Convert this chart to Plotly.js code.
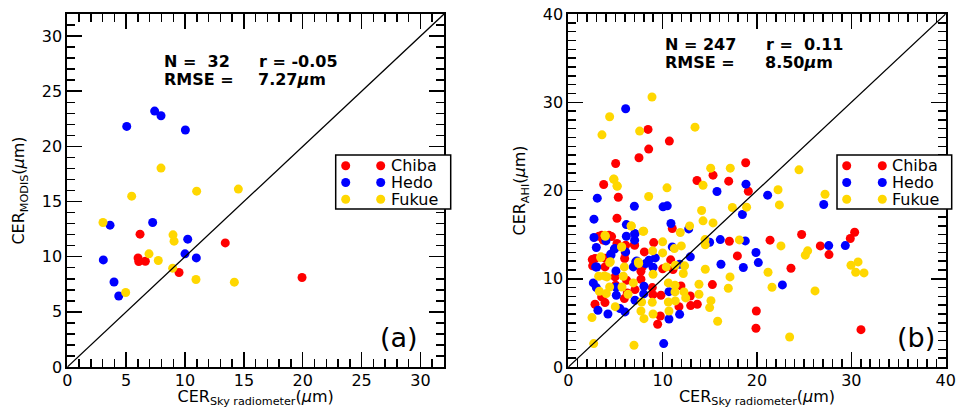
<!DOCTYPE html>
<html>
<head>
<meta charset="utf-8">
<script src="https://cdn.plot.ly/plotly-3.0.1.min.js"></script>
<style>html,body{margin:0;padding:0;background:#fff;}#chart{width:956px;height:408px;}</style>
</head>
<body>
<div id="chart"></div>
<script>
// ---------- Panel (a): MODIS vs Sky radiometer ----------
const chibaA_x = [6.01, 6.07, 6.63, 6.18, 13.42, 9.49, 19.94];
const chibaA_y = [9.89, 9.56, 9.59, 12.04, 11.25, 8.57, 8.11];
const hedoA_x = [7.42, 7.96, 5.05, 10.03, 3.63, 7.25, 10.23, 10.0, 10.96, 3.06, 3.97, 4.37];
const hedoA_y = [23.2, 22.78, 21.81, 21.48, 12.86, 13.1, 11.59, 10.26, 9.89, 9.71, 7.71, 6.44];
const fukueA_x = [7.96, 10.99, 14.53, 5.47, 3.03, 8.98, 9.07, 6.94, 7.73, 8.95, 10.93, 14.19, 4.96];
const fukueA_y = [18.03, 15.94, 16.13, 15.49, 13.1, 11.98, 11.41, 10.26, 9.65, 8.96, 7.93, 7.69, 6.75];

// ---------- Panel (b): AHI vs Sky radiometer ----------
const chibaB_x = [8.45, 8.52, 7.49, 10.71, 5.02, 3.75, 5.3, 5.16, 13.64, 15.34, 17.0, 18.8, 19.08, 17.07, 17.92, 21.38, 24.73, 23.6, 26.71, 27.63, 29.89, 30.35, 19.93, 19.89, 31.02, 15.27, 13.67, 12.97, 12.93, 11.94, 11.73, 11.1, 11.02, 10.85, 9.05, 8.06, 7.84, 7.03, 6.04, 5.97, 6.18, 6.25, 5.94, 5.02, 4.59, 3.89, 3.89, 3.53, 3.89, 2.83, 2.54, 2.58, 3.25, 7.7, 8.9, 8.97, 9.82, 9.75, 9.47, 10.0, 7.07, 4.95, 7.7, 3.71, 2.83, 5.16, 3.54, 4.31, 6.08, 7.0];
const chibaB_y = [26.92, 24.69, 23.71, 25.6, 23.06, 20.68, 19.24, 16.86, 21.13, 21.74, 21.06, 23.14, 19.92, 14.25, 12.59, 14.37, 15.01, 11.19, 13.72, 12.74, 14.56, 15.27, 6.35, 4.39, 4.23, 9.34, 7.11, 6.96, 8.05, 9.19, 6.84, 11.04, 15.69, 12.14, 14.1, 13.04, 11.34, 13.8, 12.97, 12.29, 9.83, 8.39, 7.75, 9.26, 14.78, 12.33, 11.34, 7.94, 7.3, 7.11, 12.17, 11.46, 14.82, 9.94, 9.0, 8.2, 8.13, 5.78, 4.84, 11.12, 8.77, 10.21, 10.85, 14.37, 12.29, 14.0, 14.92, 14.92, 13.79, 13.87];
const hedoB_x = [6.08, 3.07, 2.72, 7.0, 10.04, 10.49, 10.88, 12.76, 15.76, 18.83, 21.13, 18.45, 27.07, 16.11, 14.98, 18.76, 16.18, 19.89, 20.14, 18.55, 22.69, 27.6, 29.36, 12.93, 11.8, 11.02, 10.67, 10.67, 11.8, 10.11, 9.22, 8.98, 8.55, 7.99, 8.02, 8.2, 7.03, 7.03, 7.14, 6.89, 7.07, 6.15, 6.08, 6.01, 4.88, 3.99, 4.52, 5.05, 5.05, 5.09, 5.48, 4.2, 3.14, 2.9, 2.97, 2.72, 2.65, 2.97, 6.15, 7.07, 4.92, 4.49, 7.25, 3.01];
const hedoB_y = [29.26, 19.13, 16.75, 18.22, 18.15, 18.26, 16.26, 15.65, 19.89, 20.72, 19.47, 17.28, 18.41, 14.44, 14.14, 14.29, 11.64, 12.97, 11.83, 11.27, 9.3, 13.76, 13.76, 12.48, 11.64, 13.61, 8.54, 5.44, 5.97, 2.65, 12.36, 11.3, 12.1, 8.28, 9.15, 11.72, 15.09, 14.37, 11.91, 11.34, 7.56, 16.14, 13.04, 6.24, 13.35, 14.29, 12.67, 10.89, 9.07, 8.13, 6.62, 6.01, 6.43, 11.34, 13.54, 14.67, 9.53, 9.0, 14.81, 15.11, 13.42, 12.77, 12.01, 11.33];
const fukueB_x = [8.87, 4.38, 3.57, 7.56, 13.43, 4.81, 5.16, 8.52, 10.46, 15.09, 17.17, 14.28, 17.39, 18.9, 14.13, 14.28, 15.34, 12.86, 11.87, 7.99, 6.68, 3.92, 5.65, 10.0, 10.0, 8.94, 11.98, 11.24, 14.49, 14.52, 18.13, 22.54, 24.45, 22.23, 22.37, 27.21, 25.12, 25.37, 29.96, 30.71, 30.46, 31.34, 21.17, 21.59, 26.15, 23.46, 17.14, 16.96, 14.52, 13.85, 13.85, 15.12, 14.98, 15.83, 11.34, 12.33, 12.19, 11.31, 11.31, 12.26, 12.44, 11.34, 10.6, 10.67, 10.6, 10.39, 8.98, 8.9, 8.98, 7.77, 7.7, 8.02, 6.96, 7.46, 6.33, 5.83, 5.69, 4.98, 4.38, 4.03, 3.29, 3.22, 3.82, 3.46, 4.1, 4.38, 2.51, 2.69, 5.94, 6.89, 4.84, 5.19, 6.65, 7.92, 3.89, 5.66, 3.43, 4.45, 7.42];
const fukueB_y = [30.59, 28.36, 26.31, 26.73, 27.18, 21.29, 20.53, 19.32, 20.3, 22.53, 22.53, 20.6, 18.07, 18.11, 17.73, 16.56, 16.33, 15.99, 15.24, 15.39, 15.99, 14.82, 13.61, 14.18, 12.93, 13.16, 13.72, 13.42, 14.44, 13.84, 14.4, 13.72, 22.34, 20.08, 18.37, 19.58, 12.67, 13.16, 11.53, 11.91, 10.74, 10.66, 10.74, 9.04, 8.62, 3.4, 10.21, 8.92, 11.08, 9.38, 8.24, 7.52, 6.73, 5.18, 11.53, 11.46, 10.59, 9.26, 8.51, 8.51, 7.83, 7.49, 7.37, 6.35, 9.53, 11.34, 10.51, 7.33, 6.01, 7.37, 6.35, 5.48, 2.46, 11.72, 8.24, 10.28, 9.07, 6.84, 9.07, 8.32, 8.58, 10.28, 10.32, 12.48, 10.21, 11.83, 5.6, 2.65, 11.34, 9.53, 21.27, 20.48, 15.98, 15.38, 14.92, 13.6, 12.4, 11.94, 11.9];

const siteNames = ['Chiba', 'Hedo', 'Fukue'];
const siteColors = ['#FF0000', '#0000FF', '#FFD700'];
const statsA = {n: '32', r: '-0.05', rmse: '7.27'};
const statsB = {n: '247', r: '\u00a00.11', rmse: '8.50'};

const FONT = 'DejaVu Sans, sans-serif';
const W = 956, H = 408;
const M = {l: 60, r: 8, t: 14, b: 41};
const PW = W - M.l - M.r, PH = H - M.t - M.b;
const px = v => (v - M.l) / PW;
const py = v => (H - M.b - v) / PH;

function pts(x, y, i, xa, ya) {
  return {x: x, y: y, type: 'scatter', mode: 'markers', xaxis: xa, yaxis: ya,
    name: siteNames[i], showlegend: false, hoverinfo: 'x+y',
    marker: {color: siteColors[i], size: 9, line: {width: 0}}};
}

const data = [
  pts(chibaA_x, chibaA_y, 0, 'x', 'y'),
  pts(hedoA_x, hedoA_y, 1, 'x', 'y'),
  pts(fukueA_x, fukueA_y, 2, 'x', 'y'),
  pts(chibaB_x, chibaB_y, 0, 'x2', 'y2'),
  pts(hedoB_x, hedoB_y, 1, 'x2', 'y2'),
  pts(fukueB_x, fukueB_y, 2, 'x2', 'y2')
];

function axis(range, dtick, dom, anchor, title, isX) {
  const a = {
    domain: dom, anchor: anchor, range: range, dtick: dtick, tick0: 0,
    showgrid: false, zeroline: false, showline: true, linecolor: '#000', linewidth: 2,
    mirror: 'allticks', ticks: 'inside', ticklen: 15, tickwidth: 1.5, tickcolor: '#000',
    minor: {dtick: 1, tick0: 0, ticks: 'inside', ticklen: 8, tickwidth: 1.5, tickcolor: '#000', showgrid: false},
    tickfont: {family: FONT, size: 16, color: '#000'},
    title: {text: title, font: {family: FONT, size: 16, color: '#000'}},
    fixedrange: true
  };
  if (isX) a.ticklabelstandoff = -2;
  return a;
}

const xTitle = 'CER<sub>Sky radiometer</sub>(<i>μ</i>m)';

const annotations = [];
const shapes = [];
function statText(xa, ya, xN, xR, yL1, yL2, s) {
  const base = {xref: xa, yref: ya, xanchor: 'left', yanchor: 'middle', showarrow: false,
    font: {family: FONT, size: 16, color: '#000'}};
  annotations.push(Object.assign({}, base, {x: xN, y: yL1, text: '<b>N = ' + (s.n.length < 3 ? '\u00a0' : '') + s.n + '</b>'}));
  annotations.push(Object.assign({}, base, {x: xR, y: yL1, text: '<b>r = ' + s.r + '</b>'}));
  annotations.push(Object.assign({}, base, {x: xN, y: yL2, text: '<b>RMSE =</b>'}));
  annotations.push(Object.assign({}, base, {x: xR - 0.1, y: yL2, text: '<b>' + s.rmse + '<i>μ</i>m</b>'}));
}
statText('x', 'y', 8.05, 16.1, 27.7, 26.1, statsA);
statText('x2', 'y2', 10.07, 20.7, 36.6, 34.5, statsB);

annotations.push({xref: 'x', yref: 'y', x: 29.95, y: 2.7, xanchor: 'right', yanchor: 'middle', showarrow: false,
  text: '(a)', font: {family: FONT, size: 27, color: '#000'}});
annotations.push({xref: 'x2', yref: 'y2', x: 39.1, y: 3.35, xanchor: 'right', yanchor: 'middle', showarrow: false,
  text: '(b)', font: {family: FONT, size: 27, color: '#000'}});

// 1:1 lines
shapes.push({type: 'line', xref: 'x', yref: 'y', x0: 0, y0: 0, x1: 32, y1: 32, line: {color: '#000', width: 1.3}});
shapes.push({type: 'line', xref: 'x2', yref: 'y2', x0: 0, y0: 0, x1: 40, y1: 40, line: {color: '#000', width: 1.3}});

// legend boxes (pixel positions)
function legend(left, top, right, bottom, m1, m2, tx, rows) {
  shapes.push({type: 'rect', xref: 'paper', yref: 'paper', x0: px(left), x1: px(right), y0: py(bottom), y1: py(top),
    line: {color: '#000', width: 1.5}, fillcolor: '#fff', layer: 'above'});
  siteNames.forEach((nm, i) => {
    const yy = py(rows[i]);
    [m1, m2].forEach(mx => {
      shapes.push({type: 'circle', xref: 'paper', yref: 'paper', xsizemode: 'pixel', ysizemode: 'pixel',
        xanchor: px(mx), yanchor: yy, x0: -4.5, x1: 4.5, y0: -4.5, y1: 4.5,
        fillcolor: siteColors[i], line: {width: 0}, layer: 'above'});
    });
    annotations.push({xref: 'paper', yref: 'paper', x: px(tx), y: yy, xanchor: 'left', yanchor: 'middle',
      showarrow: false, text: nm, font: {family: FONT, size: 16, color: '#000'}, borderpad: 0});
  });
}
legend(335.7, 155, 450.7, 209, 345.7, 380.7, 389.5, [165.7, 182.5, 199.3]);
legend(837, 155, 951.7, 209, 846.7, 882.3, 890.5, [165.7, 182.5, 199.3]);

const layout = {
  width: W, height: H,
  margin: M,
  paper_bgcolor: '#fff', plot_bgcolor: '#fff',
  showlegend: false,
  font: {family: FONT, color: '#000'},
  xaxis: axis([0, 32], 5, [px(67.3), px(444)], 'y', xTitle, true),
  yaxis: axis([0, 32], 5, [0, 1], 'x', 'CER<sub>MODIS</sub>(<i>μ</i>m)', false),
  xaxis2: axis([0, 40], 10, [px(568.3), px(945.7)], 'y2', xTitle, true),
  yaxis2: axis([0, 40], 10, [0, 1], 'x2', 'CER<sub>AHI</sub>(<i>μ</i>m)', false),
  annotations: annotations,
  shapes: shapes
};

Plotly.newPlot('chart', data, layout, {displayModeBar: false, staticPlot: true});
</script>
</body>
</html>
